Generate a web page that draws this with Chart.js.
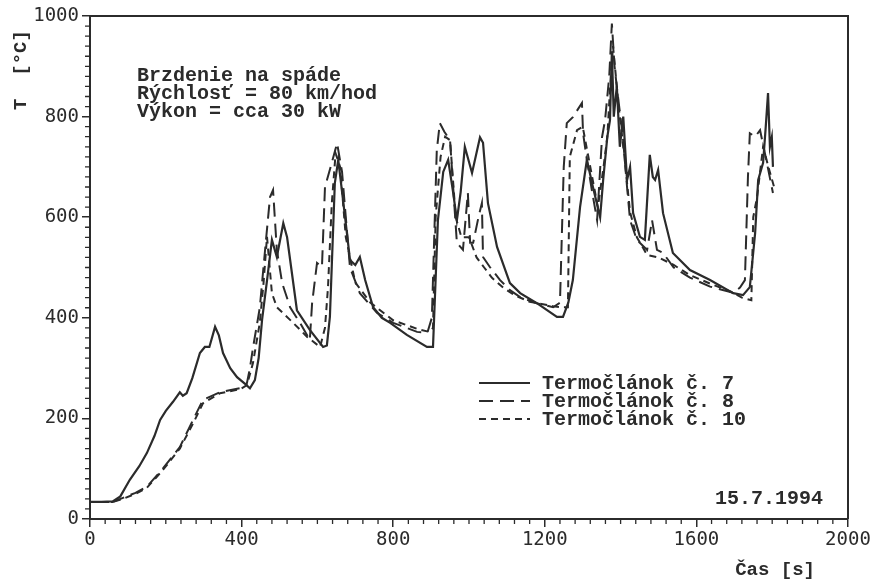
<!DOCTYPE html>
<html>
<head>
<meta charset="utf-8">
<script src="https://cdn.jsdelivr.net/npm/chart.js@4.4.0/dist/chart.umd.min.js"></script>
<style>
  html, body { margin: 0; padding: 0; background: #fff; }
  #wrap { width: 873px; height: 583px; }
</style>
</head>
<body>
<div id="wrap"><canvas id="tempChart" width="873" height="583"></canvas></div>
<script>
// --- data (time in s, temperature in °C) ---
const t7 = [0,30,60,80,105,130,150,170,185,200,
  219,237,245,255,270,290,303,315,330,340,
  351,370,388,410,422,435,445,454,468,480,
  493,510,520,546,580,615,625,633,646,655,
  673,686,700,712,726,747,770,792,836,889,
  905,918,932,945,958,968,978,989,1008,1029,
  1037,1050,1074,1108,1135,1179,1232,1248,1262,1274,
  1293,1311,1327,1346,1354,1365,1372,1377,1382,1390,
  1398,1407,1417,1425,1433,1451,1464,1477,1485,1491,
  1499,1512,1538,1583,1636,1697,1723,1741,1755,1763,
  1776,1783,1789,1794,1799,1802];
const temp7 = [34,34,35,45,78,105,131,165,197,215,
  233,252,245,250,280,330,342,342,382,365,
  330,300,282,268,260,276,320,396,480,555,
  521,588,560,415,376,342,345,402,668,714,
  600,515,505,521,475,421,400,390,366,342,
  342,594,690,714,650,594,650,740,688,759,
  748,628,541,469,449,429,402,402,430,475,
  620,714,660,600,674,760,793,930,800,860,
  740,800,674,700,608,561,555,724,680,674,
  694,608,529,495,475,449,445,461,569,674,
  708,780,847,740,759,700];

const t8 = [0,60,87,120,150,193,237,272,298,343,
  396,414,422,430,448,465,475,483,493,507,
  528,554,580,586,599,612,620,635,652,665,
  686,712,757,800,863,890,902,915,923,935,
  950,968,984,997,1003,1011,1025,1034,1037,1055,
  1082,1108,1135,1179,1222,1240,1250,1258,1274,1298,
  1301,1311,1325,1338,1351,1359,1370,1377,1384,1390,
  1406,1417,1425,1443,1470,1483,1496,1512,1540,1583,
  1636,1697,1715,1728,1736,1741,1755,1768,1786,1802];
const temp8 = [34,34,42,52,64,101,143,197,237,252,
  260,270,300,340,420,560,640,654,535,469,
  421,390,356,429,509,501,660,700,747,690,
  500,449,410,390,372,370,400,733,787,770,
  753,549,535,648,549,549,600,628,521,501,
  475,455,441,429,421,430,700,787,799,827,
  767,714,650,594,759,793,880,985,900,859,
  759,660,594,555,535,594,535,529,500,480,
  462,450,460,475,680,767,760,773,708,648];

const t10 = [0,60,87,120,150,193,237,272,298,343,
  396,414,430,448,458,467,480,493,536,573,
  607,620,628,638,648,660,675,700,740,800,
  863,895,905,912,925,937,950,965,980,1000,
  1020,1040,1060,1090,1120,1160,1222,1245,1261,1266,
  1285,1300,1320,1340,1355,1365,1374,1380,1395,1410,
  1425,1443,1470,1500,1540,1583,1636,1697,1720,1745,
  1750,1760,1776,1790,1805];
const temp10 = [34,34,40,50,62,98,140,190,230,250,
  258,266,310,390,470,561,449,421,390,362,
  342,380,461,628,727,700,560,470,430,395,
  378,372,380,600,720,760,753,600,560,560,
  520,500,480,460,445,432,423,421,421,720,
  773,780,700,620,700,760,880,940,820,720,
  610,560,525,520,505,485,468,450,440,435,
  600,640,740,700,660];

const seriesNames = ["Termočlánok č. 7", "Termočlánok č. 8", "Termočlánok č. 10"];
const seriesDash = [[], [14, 7], [7, 5]];
const noteLines = ["Brzdenie na spáde", "Rýchlosť = 80 km/hod", "Výkon = cca 30 kW"];
const dateText = "15.7.1994";
const xTitle = "Čas [s]";
const yTitle = "T  [°C]";

const ink = "#2b2b2b";
const monoFont = "'DejaVu Sans Mono', monospace";
const boldFont = "bold 20px 'Liberation Mono', monospace";

function toPoints(xs, ys) {
  return xs.map((x, i) => ({ x: x, y: ys[i] }));
}

// frame, minor ticks and the texts placed inside the plot
const decorPlugin = {
  id: "decor",
  afterDraw(chart) {
    const ctx = chart.ctx;
    const area = chart.chartArea;
    const xs = chart.scales.x;
    const ys = chart.scales.y;
    ctx.save();
    ctx.strokeStyle = ink;
    ctx.lineWidth = 2;
    ctx.beginPath();
    ctx.moveTo(area.left, area.top);
    ctx.lineTo(area.right, area.top);
    ctx.lineTo(area.right, area.bottom);
    ctx.stroke();

    // minor ticks
    ctx.lineWidth = 1.3;
    ctx.beginPath();
    for (let v = 0; v <= 2000; v += 40) {
      if (v % 400 === 0) continue;
      const px = xs.getPixelForValue(v);
      ctx.moveTo(px, area.bottom);
      ctx.lineTo(px, area.bottom + 5);
    }
    for (let v = 0; v <= 1000; v += 20) {
      if (v % 200 === 0) continue;
      const py = ys.getPixelForValue(v);
      ctx.moveTo(area.left, py);
      ctx.lineTo(area.left - 5, py);
    }
    ctx.stroke();

    // axis titles
    ctx.fillStyle = ink;
    ctx.font = "bold 19px 'Liberation Mono', monospace";
    ctx.textAlign = "right";
    ctx.textBaseline = "alphabetic";
    ctx.fillText(xTitle, 815, 575);
    ctx.save();
    ctx.translate(26, 70);
    ctx.rotate(-Math.PI / 2);
    ctx.textAlign = "center";
    ctx.fillText(yTitle, 0, 0);
    ctx.restore();

    // note block
    ctx.font = boldFont;
    ctx.textAlign = "left";
    noteLines.forEach((line, i) => {
      ctx.fillText(line, 137, 81 + i * 18);
    });

    // legend
    chart.data.datasets.forEach((ds, i) => {
      const y = 383 + i * 18;
      ctx.setLineDash(seriesDash[i]);
      ctx.lineWidth = 1.8;
      ctx.beginPath();
      ctx.moveTo(479, y);
      ctx.lineTo(530, y);
      ctx.stroke();
      ctx.setLineDash([]);
      ctx.fillText(seriesNames[i], 542, y + 6);
    });

    // date
    ctx.textAlign = "right";
    ctx.fillText(dateText, 823, 504);
    ctx.restore();
  }
};

new Chart(document.getElementById("tempChart"), {
  type: "scatter",
  data: {
    datasets: [
      { label: seriesNames[0], data: toPoints(t7, temp7), borderDash: seriesDash[0], borderWidth: 2.2 },
      { label: seriesNames[1], data: toPoints(t8, temp8), borderDash: seriesDash[1], borderWidth: 2 },
      { label: seriesNames[2], data: toPoints(t10, temp10), borderDash: seriesDash[2], borderWidth: 2 }
    ].map(ds => Object.assign(ds, {
      showLine: true, borderColor: ink, pointRadius: 0, tension: 0, fill: false
    }))
  },
  options: {
    responsive: false,
    animation: false,
    layout: { padding: { top: 16, right: 25, left: 0, bottom: 0 } },
    plugins: { legend: { display: false }, tooltip: { enabled: false } },
    scales: {
      x: {
        type: "linear", min: 0, max: 2000,
        ticks: { stepSize: 400, color: ink, font: { family: monoFont, size: 19 }, padding: 2, maxRotation: 0, autoSkip: false,
          callback: v => String(v) },
        grid: { display: true, drawOnChartArea: false, drawTicks: true, tickLength: 8, color: ink, lineWidth: 1.5 },
        border: { display: true, color: ink, width: 2 },
        afterFit(scale) { scale.height = 64; }
      },
      y: {
        type: "linear", min: 0, max: 1000,
        ticks: { stepSize: 200, color: ink, font: { family: monoFont, size: 19 }, padding: 3, autoSkip: false,
          callback: v => String(v) },
        grid: { display: true, drawOnChartArea: false, drawTicks: true, tickLength: 8, color: ink, lineWidth: 1.5 },
        border: { display: true, color: ink, width: 2 },
        afterFit(scale) { scale.width = 90; }
      }
    }
  },
  plugins: [decorPlugin]
});
</script>
</body>
</html>
